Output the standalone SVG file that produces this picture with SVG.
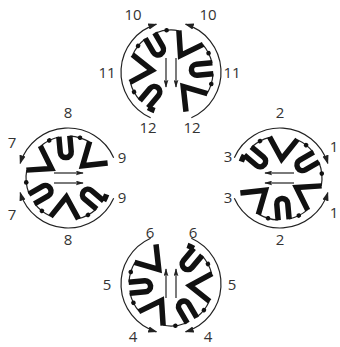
<svg xmlns="http://www.w3.org/2000/svg" xmlns:xlink="http://www.w3.org/1999/xlink" width="340" height="347" viewBox="0 0 340 347">
<style>
.lbl{font-family:"Open Sans","Liberation Sans",sans-serif;font-size:15px;fill:#333;text-anchor:middle}
.thin{fill:none;stroke:#222;stroke-width:1.2}
.thick{fill:none;stroke:#111;stroke-width:5.5}
.u{stroke-linejoin:round}
.v{stroke-linejoin:miter;stroke-miterlimit:10}
.dot{fill:#111}
</style>
<defs>
<marker id="ah" viewBox="0 0 10 7" refX="9" refY="3.5" markerWidth="9" markerHeight="7" markerUnits="userSpaceOnUse" orient="auto"><path d="M0,0 L10,3.5 L0,7 z" fill="#222"/></marker>
<marker id="ahs" viewBox="0 0 10 6" refX="9" refY="3" markerWidth="8" markerHeight="5" markerUnits="userSpaceOnUse" orient="auto"><path d="M0,0 L10,3 L0,6 L2,3 z" fill="#222"/></marker>
<g id="motif">
<path class="thin" d="M-20.34,45.68 A50,50 0 0 1 -14.62,-47.82" marker-end="url(#ah)"/>
<path class="thin" d="M20.34,45.68 A50,50 0 0 0 14.62,-47.82" marker-end="url(#ah)"/>
<path class="thin" d="M-30.97,28.37 A42,42 0 0 1 -40.70,10.37 M-38.28,-17.28 A42,42 0 0 1 -25.57,-33.32 M-16.07,-38.80 A42,42 0 0 1 7.80,-41.27 M31.84,-27.39 A42,42 0 0 1 41.00,-9.09 M41.96,1.83 A42,42 0 0 1 36.12,21.44"/>
<g class="dot">
<circle cx="42" cy="0" r="2.3" transform="rotate(151.6)"/>
<circle cx="42" cy="0" r="2.3" transform="rotate(218.4)"/>
<circle cx="42" cy="0" r="2.3" transform="rotate(264)"/>
<circle cx="42" cy="0" r="2.3" transform="rotate(333.4)"/>
<circle cx="42" cy="0" r="2.3" transform="rotate(16.6)"/>
</g>
<path class="thick u" d="M42,-5.5 L26,-5.5 A5.5,5.5 0 0 0 26,5.5 L42,5.5" transform="rotate(130)"/>
<path class="thick v" d="M40,-14 L19,0 L40,14" transform="rotate(185)"/>
<path class="thick u" d="M42,-5.5 L26,-5.5 A5.5,5.5 0 0 0 26,5.5 L42,5.5" transform="rotate(240)"/>
<path class="thick v" d="M40,-14 L19,0 L40,14" transform="rotate(300)"/>
<path class="thick u" d="M42,-5.5 L26,-5.5 A5.5,5.5 0 0 0 26,5.5 L42,5.5" transform="rotate(355)"/>
<path class="thick v" d="M40,-14 L19,0 L40,14" transform="rotate(50)"/>
<path class="thick" d="M-22.79,35.71 A42,42 0 0 0 -16.41,38.66"/>
<line class="thin" x1="-5" y1="-14" x2="-5" y2="15" marker-end="url(#ahs)"/>
<line class="thin" x1="5" y1="-14" x2="5" y2="15" marker-end="url(#ahs)"/>
</g>
</defs>
<g id="top"><use xlink:href="#motif" href="#motif" transform="translate(171,72)"/>
<text class="lbl" x="133" y="20">10</text><text class="lbl" x="208" y="20">10</text>
<text class="lbl" x="107" y="78">11</text><text class="lbl" x="232" y="78">11</text>
<text class="lbl" x="148" y="133">12</text><text class="lbl" x="192" y="133">12</text></g>
<g id="left"><use xlink:href="#motif" href="#motif" transform="translate(68,178) rotate(-90)"/>
<text class="lbl" x="68" y="118">8</text><text class="lbl" x="68" y="245">8</text>
<text class="lbl" x="12" y="148">7</text><text class="lbl" x="12" y="220">7</text>
<text class="lbl" x="122" y="163">9</text><text class="lbl" x="122" y="203">9</text></g>
<g id="right"><use xlink:href="#motif" href="#motif" transform="translate(280,178) rotate(90)"/>
<text class="lbl" x="280" y="118">2</text><text class="lbl" x="280" y="245">2</text>
<text class="lbl" x="334" y="152">1</text><text class="lbl" x="334" y="218">1</text>
<text class="lbl" x="228" y="162">3</text><text class="lbl" x="228" y="203">3</text></g>
<g id="bottom"><use xlink:href="#motif" href="#motif" transform="translate(171,284) rotate(180)"/>
<text class="lbl" x="150" y="238">6</text><text class="lbl" x="193" y="238">6</text>
<text class="lbl" x="107" y="290">5</text><text class="lbl" x="232" y="290">5</text>
<text class="lbl" x="133" y="342">4</text><text class="lbl" x="208" y="342">4</text></g>
</svg>
